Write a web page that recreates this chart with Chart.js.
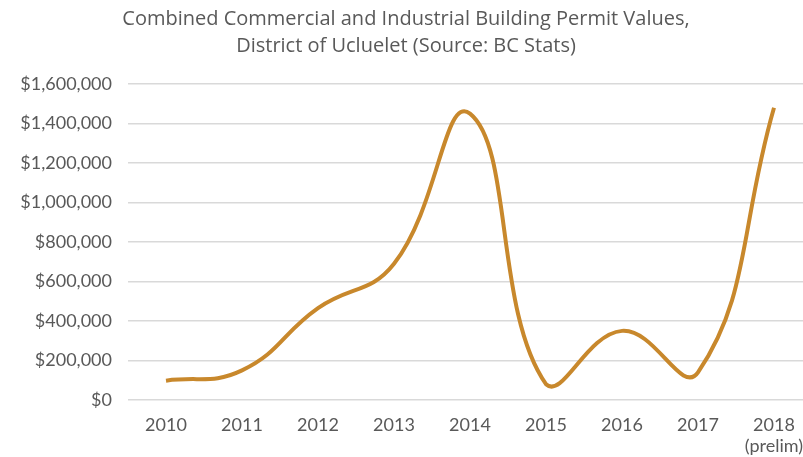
<!DOCTYPE html>
<html>
<head>
<meta charset="utf-8">
<script src="https://cdn.jsdelivr.net/npm/chart.js@4.4.1/dist/chart.umd.min.js"></script>
<style>
  html, body { margin: 0; padding: 0; background: #fff; overflow: hidden; }
  #wrap { width: 812px; height: 457px; }
</style>
</head>
<body>
<div id="wrap"><canvas id="permits" width="812" height="457"></canvas></div>
<script>
// Commercial + industrial permit values, by year
const years = ['2010', '2011', '2012', '2013', '2014', '2015', '2016', '2017', '2018'];
const yearNotes = ['', '', '', '', '', '', '', '', '(prelim)'];
const permitValues = [98000, 150000, 465000, 690000, 1450000, 80000, 350000, 140000, 1480000];
const titleLines = [
  'Combined Commercial and Industrial Building Permit Values,',
  'District of Ucluelet (Source: BC Stats)'
];

const GREY = '#595959';
const LINE = '#C8882C';

const labels = years.map((y, i) => yearNotes[i] ? [y, yearNotes[i]] : y);

new Chart(document.getElementById('permits'), {
  type: 'line',
  data: {
    labels: labels,
    datasets: [{
      data: permitValues,
      borderColor: LINE,
      borderWidth: 4,
      pointRadius: 0,
      tension: 0.45,
      fill: false
    }]
  },
  options: {
    responsive: false,
    animation: false,
    layout: { padding: 0 },
    plugins: {
      legend: { display: false },
      tooltip: { enabled: false },
      title: {
        display: true,
        text: titleLines,
        color: GREY,
        font: { family: 'Open Sans', size: 20, weight: 'normal', lineHeight: 1.35 },
        padding: { top: 6, bottom: 24 }
      }
    },
    scales: {
      x: {
        offset: true,
        grid: { display: false },
        border: { display: false },
        ticks: {
          color: GREY,
          font: { family: 'Lato', size: 18, lineHeight: 1.15 },
          padding: 7,
          maxRotation: 0
        },
        afterFit: s => { s.height = 57; }
      },
      y: {
        min: 0,
        max: 1600000,
        grid: { color: '#d9d9d9', lineWidth: 1.5, drawTicks: false },
        border: { display: false },
        ticks: {
          stepSize: 200000,
          color: GREY,
          font: { family: 'Lato', size: 18 },
          padding: 16,
          callback: v => '$' + v.toLocaleString('en-US')
        },
        afterFit: s => { s.width = 128; }
      }
    }
  }
});
</script>
</body>
</html>
